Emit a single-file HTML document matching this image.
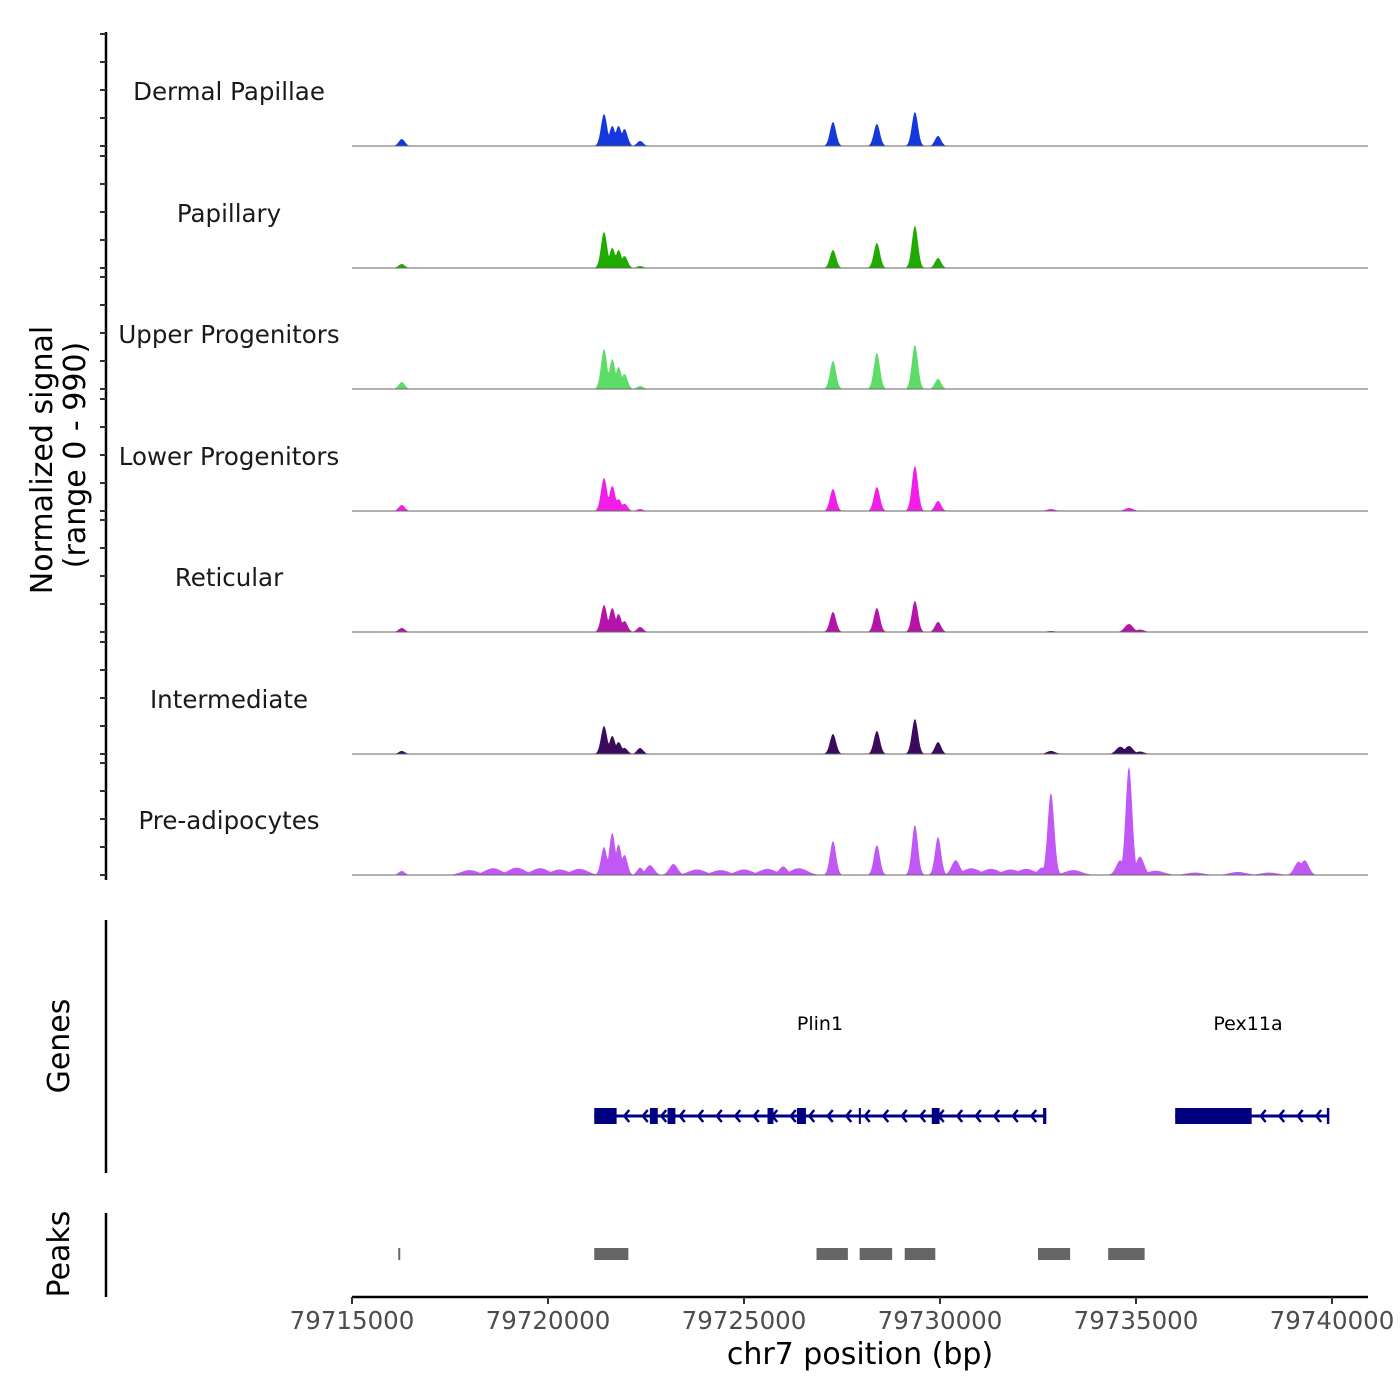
<!DOCTYPE html>
<html><head><meta charset="utf-8"><style>
html,body{margin:0;padding:0;background:#fff;}
svg{display:block;font-family:"DejaVu Sans","Liberation Sans",sans-serif;}
</style></head><body>
<svg id="chart" width="1400" height="1400" viewBox="0 0 1400 1400">
<g id="tracks"></g>
<g id="left"></g>
<g id="genes"></g>
<g id="peaks"></g>
<g id="xaxis"></g>
<text x="52" y="460" font-size="30" text-anchor="middle" transform="rotate(-90 52 460)">Normalized signal</text>
<text x="85" y="455" font-size="30" text-anchor="middle" transform="rotate(-90 85 455)">(range 0 - 990)</text>
<text x="69" y="1046" font-size="30" text-anchor="middle" transform="rotate(-90 69 1046)">Genes</text>
<text x="69" y="1254" font-size="30" text-anchor="middle" transform="rotate(-90 69 1254)">Peaks</text>
<text x="860" y="1364" font-size="30" text-anchor="middle">chr7 position (bp)</text>
</svg>
<script>
const NS="http://www.w3.org/2000/svg";
const trackNames=["Dermal Papillae","Papillary","Upper Progenitors","Lower Progenitors","Reticular","Intermediate","Pre-adipocytes"];
const trackColors=["#1538dc","#1fab00","#5ddc68","#f21ee8","#b514a8","#3a0a5c","#c158f5"];
const peakPos=[79716270,79721430,79721640,79721800,79721950,79722350,79727270,79728390,79729360,79729950];
const dpVals=[57,262,164,164,139,41,196,180,278,82];
const papVals=[33,295,164,147,98,16,147,205,344,82];
const upVals=[57,327,245,180,123,25,229,295,360,82];
const lowVals=[49,270,205,98,60,16,180,196,368,82];
const retVals=[33,221,196,147,90,41,164,196,254,82];
const intVals=[25,229,147,98,50,49,164,188,286,98];
const preVals=[33,229,344,250,164,60,278,245,409,311];
const extraPos=[79722600,79723200,79726000,79730400,79732600,79732830,79734600,79734820,79735100,79739150,79739300];
const extraDp=[0,0,0,0,0,0,0,0,0,0,0];
const extraPap=[0,0,0,0,0,0,0,0,0,0,0];
const extraUp=[0,0,0,0,0,0,0,0,0,0,0];
const extraLow=[0,0,0,0,0,16,0,25,0,0,0];
const extraRet=[0,0,0,0,0,8,0,65,20,0,0];
const extraInt=[0,0,0,0,0,25,60,65,20,0,0];
const extraPre=[80,90,70,120,60,670,120,884,150,110,120];
const noisePos=[79718000,79718600,79719200,79719800,79720300,79720800,79723800,79724400,79725000,79725600,79726400,79730800,79731300,79731800,79732200,79733400,79735500,79736500,79737600,79738400];
const noisePre=[40,55,60,55,45,50,45,40,45,50,55,55,50,45,50,40,35,20,25,20];
const allVals=[dpVals,papVals,upVals,lowVals,retVals,intVals,preVals];
const allExtra=[extraDp,extraPap,extraUp,extraLow,extraRet,extraInt,extraPre];
const xTicks=[79715000,79720000,79725000,79730000,79735000,79740000];
const geneExons=[[79721180,79721750],[79722600,79722800],[79723050,79723250],[79725600,79725750],[79726350,79726580],[79727930,79727980],[79729790,79729990],[79732630,79732680]];
const pexExons=[[79736000,79737950]];
const peakRegions=[[79716180,79716230],[79721180,79722050],[79726850,79727650],[79727950,79728780],[79729100,79729880],[79732500,79733320],[79734290,79735220]];

const x=bp=>352+(bp-79715000)*196/5000;
const baselines=[146,268,389,511,632,754,875];
const trackH=121.5;
const y=(v,i)=>baselines[i]-v/990*trackH;
function el(tag,attrs,parent){const e=document.createElementNS(NS,tag);for(const k in attrs)e.setAttribute(k,attrs[k]);parent.appendChild(e);return e;}

const tracks=document.getElementById('tracks');
for(let i=0;i<7;i++){
  const g=el('g',{},tracks);
  
  
  const bumps=[];
  peakPos.forEach((p,j)=>bumps.push([p,allVals[i][j],110]));
  extraPos.forEach((p,j)=>{if(allExtra[i][j]>0)bumps.push([p,allExtra[i][j],(allExtra[i][j]>500?120:150)]);});
  if(i===6)noisePos.forEach((p,j)=>bumps.push([p,noisePre[j],300]));
  const pts=[];
  for(let px=352;px<=1368;px+=1){
    const bp=79715000+(px-352)*5000/196;let v=0;
    bumps.forEach(b=>{const d=(bp-b[0])/b[2];v=Math.max(v,b[1]*Math.exp(-d*d));});
    pts.push(px+','+y(v,i).toFixed(1));
  }
  const path=el('path',{d:'M352,'+baselines[i]+' L'+pts.join(' L')+' L1368,'+baselines[i]+' Z',fill:trackColors[i]},g);
  
  
  const bl=el('line',{x1:352,x2:1368,y1:baselines[i],y2:baselines[i],stroke:'#666','stroke-width':1},g);
  
  
  const t=el('text',{x:229,y:baselines[i]-46,'font-size':24.5,'text-anchor':'middle',fill:'#1a1a1a'},g);
  t.textContent=trackNames[i];
  
  
}
const left=document.getElementById('left');
el('line',{x1:106,x2:106,y1:32,y2:880,stroke:'#000','stroke-width':2.5},left);
for(let i=0;i<7;i++)for(let k=0;k<5;k++){const ty=baselines[i]-k*28;el('line',{x1:100,x2:106,y1:ty,y2:ty,stroke:'#333','stroke-width':2},left);}

const genes=document.getElementById('genes');
el('line',{x1:106,x2:106,y1:920,y2:1173,stroke:'#000','stroke-width':2.5},genes);
function gene(start,end,exons,thick,label,lx){
  const g=el('g',{},genes);
  
  
  el('line',{x1:x(start),x2:x(end),y1:1116,y2:1116,stroke:'#000080','stroke-width':3},g);
  for(let px=x(start)+30;px<x(end);px+=18.5)el('path',{d:`M${px+5},1110 L${px},1116 L${px+5},1122`,stroke:'#000080','stroke-width':2.5,fill:'none'},g);
  exons.forEach(e=>el('rect',{x:x(e[0]),y:1116-thick/2,width:Math.max(2,x(e[1])-x(e[0])),height:thick,fill:'#000080'},g));
  el('line',{x1:x(end),x2:x(end),y1:1108,y2:1124,stroke:'#000080','stroke-width':2.5},g);
  const t=el('text',{x:lx,y:1030,'font-size':19,'text-anchor':'middle'},g);t.textContent=label;
}
gene(79721180,79732680,geneExons,16,'Plin1',820);
gene(79736000,79739900,pexExons,16,'Pex11a',1248);

const peaks=document.getElementById('peaks');
el('line',{x1:106,x2:106,y1:1213,y2:1297,stroke:'#000','stroke-width':2.5},peaks);
peakRegions.forEach(r=>{const e=el('rect',{x:x(r[0]),y:1248,width:Math.max(2,x(r[1])-x(r[0])),height:12,fill:'#666'},peaks);

});

const xa=document.getElementById('xaxis');
el('line',{x1:352,x2:1368,y1:1297,y2:1297,stroke:'#000','stroke-width':2.5},xa);
xTicks.forEach(t=>{el('line',{x1:x(t),x2:x(t),y1:1297,y2:1304,stroke:'#333','stroke-width':2},xa);
const tx=el('text',{x:x(t),y:1329,'font-size':24.5,'text-anchor':'middle',fill:'#4d4d4d'},xa);tx.textContent=t;

});
</script>
</body></html>
